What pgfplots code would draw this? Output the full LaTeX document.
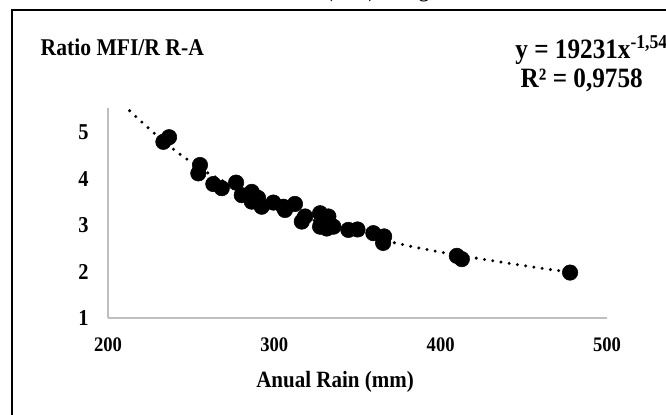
\documentclass[border=0pt]{standalone}
\usepackage{fontspec}
\setmainfont{Liberation Serif}[FakeStretch=0.9]
\usepackage{pgfplots}
\pgfplotsset{compat=1.18}

\pgfplotstableread{
x y
233.3 4.80
236.7 4.90
255.3 4.30
254.3 4.12
263.3 3.89
268.4 3.80
277.0 3.92
280.4 3.65
286.4 3.72
288.4 3.62
286.4 3.51
292.4 3.40
290.2 3.59
299.4 3.49
305.4 3.40
306.4 3.33
312.4 3.46
318.5 3.19
316.5 3.08
327.5 3.26
332.5 3.19
327.5 2.97
331.5 2.93
335.5 2.97
344.5 2.90
350.0 2.91
359.5 2.83
366.0 2.76
365.4 2.62
409.7 2.34
412.7 2.27
477.8 1.98
}\rain

\pgfplotstableread{
x y
213 5.47
228 4.98
243 4.54
260 4.13
280 3.76
300 3.43
325 3.09
350 2.82
375 2.60
400 2.42
425 2.27
450 2.13
469 2.03
478 1.99
}\trend

\begin{document}
\begin{tikzpicture}
\clip (0,0) rectangle (499.5pt,310.5pt);
\draw[line width=1.3pt] (9pt,303pt) rectangle (512pt,-10pt);
\node[anchor=base west, inner sep=0pt, font=\fontsize{19}{22}\selectfont] at (243.75pt,313pt) {(mm) Range};
\begin{axis}[
    at={(81pt,72pt)}, anchor=south west,
    scale only axis,
    width=374.25pt, height=157.5pt,
    xmin=200, xmax=500, ymin=1, ymax=5.53,
    xtick={200,300,400,500}, ytick={1,2,3,4,5},
    axis x line=bottom, axis y line=left,
    axis line style={-, draw=black!25, line width=1.1pt},
    major tick length=0pt,
    tick label style={font=\bfseries\fontsize{15.5}{18}\selectfont},
    yticklabel style={font=\bfseries\fontsize{17}{19}\selectfont, xshift=-11pt},
    xticklabel style={yshift=-11pt},
    /pgf/number format/assume math mode=true,
    clip=false,
]
\addplot[black, line width=2.5pt, line cap=round, dash pattern=on 0pt off 6.25pt, smooth] table[x=x,y=y] {\trend};
\addplot[only marks, mark=*, mark size=5.8pt, black] table[x=x,y=y] {\rain};
\end{axis}
\node[anchor=west, font=\bfseries\fontsize{18}{21}\selectfont] at (27pt,275pt) {Ratio MFI/R R-A};
\node[anchor=west, font=\bfseries\fontsize{21}{24}\selectfont] at (383pt,273pt) {y = 19231x\textsuperscript{-1,542}};
\node[anchor=west, font=\bfseries\fontsize{21}{24}\selectfont] at (387pt,250pt) {R² = 0,9758};
\node[font=\bfseries\fontsize{17.5}{20}\selectfont] at (251.25pt,24pt) {Anual Rain (mm)};
\end{tikzpicture}
\end{document}
